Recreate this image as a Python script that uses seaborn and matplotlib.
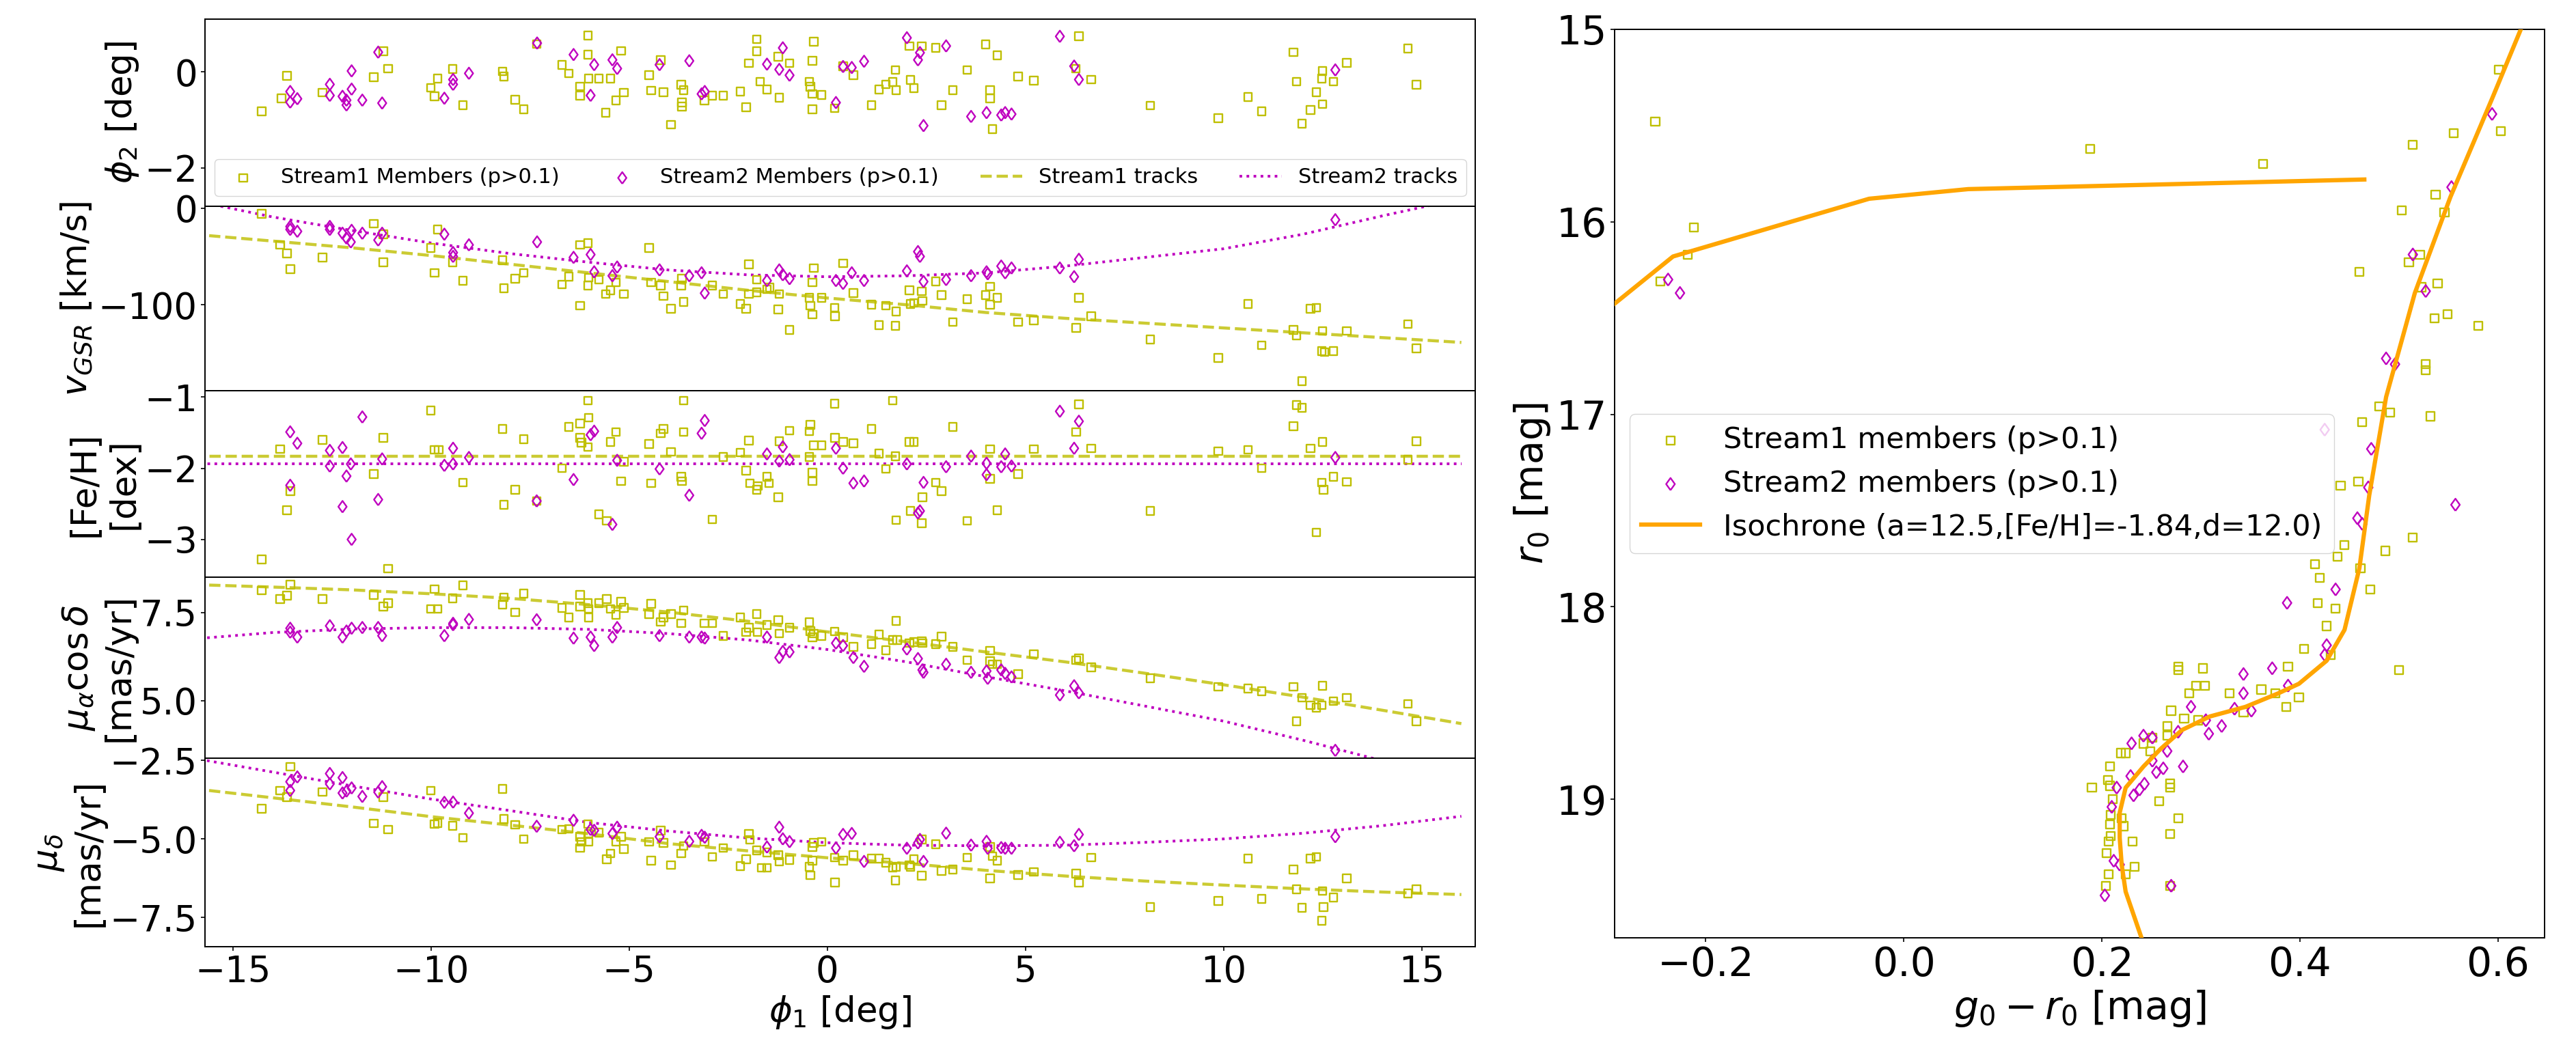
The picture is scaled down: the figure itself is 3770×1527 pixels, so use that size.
import numpy as np
import pandas as pd
import matplotlib
matplotlib.use("Agg")
import matplotlib.pyplot as plt
from matplotlib.ticker import FixedLocator
import seaborn as sns

# ---------------- data ----------------
# (phi1, value) pairs for each stream and panel
S1_PHI2 = [(-14.27,-0.82),(-13.63,-0.08),(-13.77,-0.55),(-12.73,-0.43),(-11.44,-0.11),(-11.08,0.07),(-11.2,0.43),
    (-10.0,-0.33),(-9.91,-0.51),(-9.83,-0.14),(-9.45,0.06),(-9.19,-0.69),(-8.19,0.01),(-8.16,-0.1),(-7.87,-0.58),
    (-7.66,-0.78),(-7.33,0.58),(-6.69,0.15),(-6.52,-0.03),(-6.23,-0.3),(-6.23,-0.49),(-6.04,0.76),(-6.04,0.36),
    (-6.02,-0.14),(-5.76,-0.14),(-5.59,-0.85),(-5.47,-0.14),(-5.33,-0.59),(-5.2,0.44),(-5.13,-0.43),(-4.49,-0.07),
    (-4.44,-0.39),(-4.2,0.25),(-4.13,-0.42),(-3.94,-1.1),(-3.68,-0.27),(-3.62,-0.38),(-3.67,-0.64),(-3.67,-0.72),
    (-3.1,-0.59),(-2.9,-0.49),(-2.62,-0.49),(-2.19,-0.41),(-2.05,-0.74),(-1.98,0.18),(-1.78,0.68),(-1.78,0.43),
    (-1.69,-0.2),(-1.52,-0.37),(-1.24,0.32),(-1.21,-0.54),(-0.95,0.18),(-0.45,-0.2),(-0.43,-0.31),(-0.37,-0.46),
    (-0.37,-0.78),(-0.37,0.23),(-0.34,0.63),(-0.14,-0.48),(0.19,-0.76),(0.4,0.12),(0.66,-0.07),(1.12,-0.69),
    (1.31,-0.37),(1.48,-0.26),(1.72,0.04),(1.65,-0.21),(1.74,-0.38),(2.08,0.54),(2.1,-0.17),(2.19,-0.34),(2.39,0.54),
    (2.74,0.5),(2.89,-0.69),(3.17,-0.38),(3.53,0.04),(4.0,0.57),(4.11,-0.38),(4.11,-0.55),(4.17,-1.19),(4.29,0.35),
    (4.82,-0.1),(5.21,-0.18),(6.27,0.07),(6.35,0.74),(6.66,-0.16),(8.15,-0.7),(9.87,-0.96),(10.62,-0.52),
    (10.96,-0.82),(11.76,0.41),(11.84,-0.2),(11.98,-1.08),(12.2,-0.79),(12.34,-0.42),(12.48,-0.14),(12.5,0.02),
    (12.5,-0.67),(12.77,-0.2),(13.11,0.19),(14.65,0.49),(14.87,-0.27)]
S2_PHI2 = [(-13.55,-0.41),(-13.55,-0.63),(-13.37,-0.56),(-12.55,-0.26),(-12.55,-0.49),(-12.23,-0.51),(-12.13,-0.59),
    (-12.13,-0.69),(-12.0,0.02),(-12.0,-0.36),(-11.73,-0.59),(-11.33,0.41),(-11.23,-0.65),(-9.66,-0.55),(-9.44,-0.16),
    (-9.44,-0.26),(-9.04,-0.03),(-7.32,0.6),(-6.4,0.36),(-5.97,-0.49),(-5.88,0.15),(-5.42,0.25),(-5.3,0.07),
    (-4.23,0.15),(-3.48,0.23),(-3.17,-0.46),(-3.09,-0.41),(-1.52,0.16),(-1.21,0.05),(-1.12,0.5),(-0.95,-0.07),
    (0.22,-0.64),(0.4,0.11),(0.62,0.09),(0.93,0.22),(2.01,0.71),(2.29,0.25),(2.34,0.4),(3.0,0.54),(2.43,-1.12),
    (3.63,-0.93),(4.02,-0.85),(4.39,-0.9),(4.49,-0.85),(4.65,-0.88),(5.87,0.74),(6.23,0.12),(6.35,-0.16),(12.82,0.04)]

S1_VGSR = [(-14.27,-6),(-13.8,-38),(-13.63,-47),(-13.55,-63),(-12.73,-51),(-11.44,-16),(-11.2,-27),(-11.2,-56),
    (-10.0,-41),(-9.91,-67),(-9.83,-22),(-9.45,-56),(-9.19,-75),(-8.19,-54),(-8.16,-83),(-7.87,-73),(-7.66,-67),
    (-6.69,-79),(-6.52,-71),(-6.23,-38),(-6.23,-101),(-6.04,-36),(-6.04,-80),(-6.02,-72),(-5.76,-74),(-5.59,-89),
    (-5.47,-85),(-5.33,-77),(-5.13,-89),(-4.49,-41),(-4.44,-77),(-4.2,-80),(-4.13,-91),(-3.94,-104),(-3.68,-80),
    (-3.62,-97),(-3.67,-73),(-2.9,-80),(-2.62,-89),(-2.19,-99),(-2.05,-104),(-1.98,-89),(-1.98,-58),(-1.78,-87),
    (-1.78,-74),(-1.52,-84),(-1.45,-82),(-1.21,-89),(-1.24,-105),(-0.95,-126),(-0.45,-93),(-0.43,-101),(-0.37,-77),
    (-0.37,-110),(-0.34,-62),(-0.14,-93),(0.19,-103),(0.2,-112),(0.4,-57),(0.66,-88),(1.12,-100),(1.31,-121),
    (1.48,-101),(1.72,-122),(1.74,-107),(2.08,-85),(2.1,-99),(2.39,-86),(2.4,-96),(2.19,-98),(2.74,-76),(2.89,-90),
    (3.17,-118),(3.53,-94),(4.0,-90),(4.11,-81),(4.11,-100),(4.29,-93),(4.82,-118),(5.21,-116),(6.28,-124),
    (6.35,-93),(6.66,-112),(8.15,-136),(9.87,-155),(10.62,-99),(10.96,-142),(11.76,-126),(11.84,-132),(11.98,-179),
    (12.2,-104),(12.34,-103),(12.48,-148),(12.5,-127),(12.55,-149),(12.77,-148),(13.11,-127),(14.65,-120),(14.87,-145)]
S2_VGSR = [(-13.55,-19),(-13.55,-22),(-13.37,-24),(-12.55,-19),(-12.55,-22),(-12.23,-26),(-12.13,-31),(-12.02,-35),
    (-12.0,-23),(-11.73,-26),(-11.33,-33),(-11.23,-26),(-9.66,-27),(-9.44,-46),(-9.44,-50),(-9.04,-38),(-7.32,-35),
    (-6.4,-51),(-5.97,-48),(-5.88,-66),(-5.42,-70),(-5.3,-61),(-4.23,-64),(-3.48,-70),(-3.17,-67),(-3.09,-88),
    (-1.52,-75),(-1.21,-64),(-1.12,-69),(-0.95,-73),(0.22,-75),(0.4,-78),(0.62,-67),(0.93,-75),(2.01,-65),
    (2.29,-45),(2.34,-50),(2.43,-76),(3.0,-74),(3.63,-70),(4.02,-66),(4.05,-68),(4.39,-60),(4.49,-67),(4.65,-62),
    (5.87,-62),(6.23,-71),(6.35,-53),(12.82,-12)]

S1_FEH = [(-14.27,-3.28),(-13.8,-1.73),(-13.63,-2.59),(-13.55,-2.32),(-12.73,-1.6),(-11.44,-2.08),(-11.2,-1.57),
    (-11.08,-3.41),(-10.0,-1.19),(-9.91,-1.74),(-9.8,-1.74),(-9.19,-2.2),(-8.19,-1.45),(-8.16,-2.51),(-7.87,-2.3),
    (-7.66,-1.59),(-7.33,-2.46),(-6.69,-2.0),(-6.52,-1.42),(-6.23,-1.37),(-6.23,-1.57),(-6.2,-1.64),(-6.04,-1.05),
    (-6.02,-1.29),(-6.04,-1.7),(-5.76,-2.65),(-5.56,-2.74),(-5.47,-1.63),(-5.33,-1.49),(-5.2,-2.18),(-5.13,-1.91),
    (-4.49,-1.66),(-4.44,-2.21),(-4.2,-1.51),(-4.13,-1.45),(-3.94,-1.77),(-3.68,-2.12),(-3.62,-1.49),(-3.62,-1.05),
    (-3.67,-2.18),(-2.9,-2.72),(-2.62,-1.84),(-2.19,-1.78),(-2.05,-2.03),(-1.98,-1.61),(-1.95,-2.21),(-1.78,-2.3),
    (-1.75,-2.25),(-1.52,-2.12),(-1.47,-2.21),(-1.24,-2.41),(-1.21,-1.62),(-0.95,-1.47),(-0.45,-1.48),(-0.43,-1.39),
    (-0.45,-1.84),(-0.37,-2.06),(-0.37,-2.18),(-0.34,-1.68),(-0.14,-1.68),(0.19,-1.09),(0.2,-1.57),(0.4,-1.63),
    (0.66,-1.65),(1.12,-1.45),(1.31,-1.79),(1.48,-2.01),(1.65,-1.05),(1.72,-1.83),(1.74,-2.73),(2.1,-2.6),
    (2.08,-1.63),(2.19,-1.63),(2.38,-2.77),(2.4,-2.41),(2.74,-2.2),(2.89,-2.32),(3.17,-1.42),(3.53,-2.74),
    (4.11,-1.73),(4.11,-2.15),(4.29,-2.59),(4.82,-2.08),(5.21,-1.73),(6.28,-1.49),(6.35,-1.1),(6.66,-1.72),
    (8.15,-2.6),(9.87,-1.76),(10.62,-1.74),(10.96,-2.0),(11.76,-1.41),(11.84,-1.11),(11.98,-1.15),(12.2,-1.72),
    (12.34,-2.9),(12.48,-2.2),(12.5,-1.63),(12.52,-2.3),(12.77,-2.12),(13.11,-2.19),(14.65,-1.88),(14.87,-1.62)]
S2_FEH = [(-13.55,-1.49),(-13.55,-2.24),(-13.37,-1.65),(-12.55,-1.75),(-12.55,-1.97),(-12.23,-1.71),(-12.23,-2.54),
    (-12.13,-2.11),(-12.02,-1.94),(-12.0,-3.0),(-11.73,-1.28),(-11.33,-2.44),(-11.23,-1.87),(-9.66,-1.96),
    (-9.44,-1.72),(-9.44,-1.94),(-9.04,-1.85),(-7.33,-2.46),(-6.4,-2.16),(-5.97,-1.53),(-5.88,-1.48),(-5.42,-2.79),
    (-5.3,-1.89),(-4.23,-2.01),(-3.48,-2.38),(-3.17,-1.51),(-3.09,-1.33),(-1.52,-1.8),(-1.21,-1.9),(-1.12,-1.7),
    (-0.95,-1.88),(0.22,-1.72),(0.4,-2.0),(0.66,-2.21),(0.93,-2.18),(2.01,-1.94),(2.29,-2.63),(2.34,-2.6),
    (2.43,-2.2),(3.0,-1.98),(3.63,-1.83),(4.02,-1.93),(4.02,-2.09),(4.39,-1.98),(4.49,-1.8),(4.65,-1.97),
    (5.87,-1.2),(6.23,-1.72),(6.35,-1.34),(12.82,-1.85)]

S1_PMRA = [(-14.27,8.12),(-13.8,7.88),(-13.63,7.98),(-13.55,8.29),(-12.73,7.88),(-11.44,8.0),(-11.2,7.67),
    (-11.08,7.76),(-10.0,7.6),(-9.91,8.16),(-9.83,7.6),(-9.45,7.9),(-9.19,8.27),(-8.19,7.72),(-8.16,7.93),
    (-7.87,7.5),(-7.66,8.04),(-6.69,7.63),(-6.52,7.36),(-6.23,8.0),(-6.23,7.67),(-6.04,7.77),(-6.02,7.6),
    (-6.02,7.36),(-5.76,7.76),(-5.56,7.88),(-5.47,7.6),(-5.33,7.43),(-5.2,7.8),(-5.13,7.63),(-4.49,7.46),
    (-4.44,7.74),(-4.2,7.23),(-4.13,7.36),(-3.94,7.45),(-3.68,7.19),(-3.62,7.56),(-3.1,7.19),(-2.9,7.19),
    (-2.62,6.84),(-2.19,7.36),(-2.05,6.94),(-1.98,7.07),(-1.78,7.46),(-1.76,6.94),(-1.52,7.15),(-1.24,7.29),
    (-1.21,6.9),(-0.95,7.07),(-0.45,7.22),(-0.43,6.97),(-0.37,6.8),(-0.34,6.9),(-0.14,6.84),(0.19,6.96),(0.4,6.8),
    (0.66,6.53),(1.12,6.6),(1.31,6.87),(1.48,6.43),(1.65,6.72),(1.74,7.26),(1.76,6.72),(2.08,6.63),(2.19,6.66),
    (2.38,6.69),(2.4,6.63),(2.74,6.6),(2.89,6.82),(3.17,6.53),(3.53,6.15),(4.11,6.42),(4.11,6.12),(4.17,6.03),
    (4.29,6.03),(4.82,5.75),(5.21,6.32),(6.28,6.15),(6.35,6.2),(6.66,5.94),(8.15,5.63),(9.87,5.39),(10.62,5.35),
    (10.96,5.27),(11.76,5.39),(11.84,4.42),(11.98,5.08),(12.2,4.87),(12.34,4.8),(12.48,4.87),(12.5,5.42),
    (12.77,4.99),(13.11,5.08),(14.65,4.91),(14.87,4.42)]
S2_PMRA = [(-13.55,7.05),(-13.55,6.94),(-13.37,6.8),(-12.55,7.12),(-12.23,6.8),(-12.13,6.97),(-12.0,7.05),
    (-11.73,7.07),(-11.33,7.07),(-11.23,6.84),(-9.66,6.84),(-9.44,7.19),(-9.44,7.15),(-9.04,7.3),(-7.33,7.29),
    (-6.4,6.77),(-5.97,6.8),(-5.88,6.56),(-5.42,6.8),(-5.3,7.07),(-4.23,6.84),(-3.48,6.8),(-3.17,6.8),(-3.09,6.77),
    (-1.52,6.8),(-1.21,6.22),(-1.12,6.39),(-0.95,6.38),(0.22,6.63),(0.4,6.56),(0.66,6.22),(0.93,5.97),(2.01,6.46),
    (2.29,6.19),(2.43,5.8),(2.4,5.87),(3.0,6.03),(3.63,5.8),(4.02,5.84),(4.05,5.63),(4.39,5.87),(4.49,5.77),
    (4.65,5.67),(5.87,5.16),(6.23,5.42),(6.35,5.22),(12.82,3.59)]

S1_PMDEC = [(-14.27,-4.04),(-13.8,-3.46),(-13.63,-3.67),(-13.55,-2.7),(-12.73,-3.51),(-11.44,-4.51),(-11.2,-3.67),
    (-11.08,-4.7),(-10.0,-3.46),(-9.91,-4.53),(-9.83,-4.49),(-9.45,-4.58),(-9.19,-4.96),(-8.19,-3.41),(-8.16,-4.37),
    (-7.87,-4.55),(-7.66,-5.01),(-6.69,-4.7),(-6.52,-4.68),(-6.23,-4.93),(-6.23,-5.29),(-6.2,-5.09),(-6.04,-4.53),
    (-6.02,-5.09),(-6.02,-4.83),(-5.76,-4.8),(-5.56,-5.65),(-5.47,-5.46),(-5.33,-5.09),(-5.2,-4.93),(-5.13,-5.32),
    (-4.49,-5.09),(-4.44,-5.69),(-4.2,-4.73),(-4.13,-5.13),(-3.94,-5.83),(-3.68,-5.46),(-3.62,-5.22),(-3.1,-5.09),
    (-2.9,-5.57),(-2.62,-5.29),(-2.19,-5.86),(-2.05,-5.65),(-1.98,-4.83),(-1.95,-5.03),(-1.78,-5.36),(-1.66,-5.92),
    (-1.52,-5.92),(-1.52,-5.43),(-1.24,-5.52),(-1.21,-5.72),(-0.95,-5.67),(-0.45,-5.88),(-0.43,-6.16),(-0.37,-5.26),
    (-0.37,-5.69),(-0.34,-5.13),(-0.14,-5.09),(0.19,-5.59),(0.2,-6.38),(0.4,-5.69),(0.66,-5.52),(1.12,-5.62),
    (1.31,-5.62),(1.48,-5.75),(1.65,-5.92),(1.72,-6.32),(1.74,-5.88),(2.08,-5.83),(2.1,-5.88),(2.19,-5.65),
    (2.39,-5.02),(2.38,-6.17),(2.74,-5.17),(2.89,-6.02),(3.17,-5.98),(3.53,-5.59),(4.11,-5.26),(4.11,-6.25),
    (4.17,-5.55),(4.29,-5.69),(4.82,-6.15),(5.21,-6.05),(6.28,-6.11),(6.35,-6.4),(6.66,-5.59),(8.15,-7.17),
    (9.87,-6.98),(10.62,-5.62),(10.96,-6.91),(11.76,-5.98),(11.84,-6.6),(11.98,-7.19),(12.2,-5.62),(12.34,-5.57),
    (12.48,-7.61),(12.5,-6.66),(12.52,-7.17),(12.77,-6.87),(13.11,-6.25),(14.65,-6.73),(14.87,-6.6)]
S2_PMDEC = [(-13.55,-3.18),(-13.55,-3.46),(-13.37,-3.03),(-12.55,-2.92),(-12.55,-3.25),(-12.23,-3.05),
    (-12.23,-3.54),(-12.13,-3.48),(-12.0,-3.38),(-11.73,-3.65),(-11.33,-3.51),(-11.23,-3.34),(-9.66,-3.84),
    (-9.44,-3.83),(-9.04,-4.18),(-7.33,-4.6),(-6.4,-4.41),(-5.97,-4.7),(-5.88,-4.73),(-5.42,-4.83),(-5.3,-4.63),
    (-4.23,-4.93),(-3.48,-5.08),(-3.17,-4.89),(-3.09,-4.95),(-1.52,-5.26),(-1.21,-4.63),(-1.12,-5.0),(-0.95,-5.09),
    (0.22,-5.29),(0.4,-4.86),(0.62,-4.83),(0.93,-5.72),(2.01,-5.3),(2.29,-5.13),(2.34,-5.02),(2.43,-5.72),
    (3.0,-4.82),(3.63,-5.2),(4.02,-5.08),(4.05,-5.3),(4.39,-5.28),(4.49,-5.3),(4.65,-5.3),(5.87,-5.11),
    (6.23,-5.22),(6.35,-4.86),(12.82,-4.93)]

# stream tracks, read at these phi1 positions
TRACK_PHI1 = [-16, -14, -12, -10, -8, -6, -4, -2, 0, 2, 4, 6, 8, 10, 12, 14, 16]
S1_TRACK_VGSR = [-27, -34, -41, -49, -58, -67, -76, -85, -93, -100, -108, -114, -119, -124, -129, -134, -139]
S2_TRACK_VGSR = [8, -9, -23, -36, -47, -56, -64, -69, -71, -70, -67, -60, -51, -42, -27, -8, 10]
S1_TRACK_FEH = [-1.83, -1.83, -1.83, -1.83, -1.83, -1.83, -1.83, -1.83, -1.83, -1.83, -1.83, -1.83, -1.83, -1.83, -1.83, -1.83, -1.83]
S2_TRACK_FEH = [-1.94, -1.94, -1.94, -1.94, -1.94, -1.94, -1.94, -1.94, -1.94, -1.94, -1.94, -1.94, -1.94, -1.94, -1.94, -1.94, -1.94]
S1_TRACK_PMRA = [8.29, 8.22, 8.14, 8.03, 7.9, 7.72, 7.51, 7.25, 6.95, 6.67, 6.38, 6.1, 5.78, 5.45, 5.1, 4.73, 4.35]
S2_TRACK_PMRA = [6.75, 6.93, 7.03, 7.07, 7.07, 7.02, 6.9, 6.72, 6.45, 6.1, 5.68, 5.28, 4.85, 4.42, 3.88, 3.3, 2.7]
S1_TRACK_PMDEC = [-3.4, -3.69, -3.98, -4.29, -4.56, -4.84, -5.15, -5.38, -5.6, -5.78, -6.0, -6.18, -6.34, -6.47, -6.59, -6.69, -6.77]
S2_TRACK_PMDEC = [-2.43, -2.87, -3.31, -3.73, -4.1, -4.48, -4.75, -4.97, -5.12, -5.2, -5.22, -5.2, -5.11, -5.0, -4.82, -4.58, -4.28]

# CMD: (g0 - r0, r0)
S1_CMD = [(-0.251,15.48),(-0.246,16.31),(-0.218,16.17),(-0.212,16.03),(0.188,15.62),(0.363,15.70),(0.46,16.26),
    (0.503,15.94),(0.514,15.6),(0.521,16.17),(0.51,16.21),(0.523,16.34),(0.537,15.86),(0.546,15.95),(0.555,15.54),
    (0.539,16.32),(0.536,16.5),(0.549,16.48),(0.58,16.54),(0.601,15.21),(0.603,15.53),(0.527,16.74),(0.527,16.77),
    (0.48,16.96),(0.491,16.99),(0.532,17.01),(0.463,17.04),(0.459,17.35),(0.441,17.37),(0.445,17.68),(0.438,17.74),
    (0.514,17.64),(0.486,17.71),(0.461,17.8),(0.415,17.78),(0.42,17.85),(0.471,17.91),(0.418,17.98),(0.436,18.01),
    (0.427,18.1),(0.404,18.22),(0.431,18.25),(0.5,18.33),(0.388,18.31),(0.277,18.31),(0.277,18.33),(0.302,18.32),
    (0.361,18.43),(0.375,18.45),(0.329,18.45),(0.295,18.41),(0.304,18.41),(0.288,18.45),(0.399,18.47),(0.386,18.52),
    (0.27,18.54),(0.283,18.58),(0.297,18.59),(0.343,18.55),(0.266,18.62),(0.249,18.75),(0.251,18.68),(0.266,18.67),
    (0.242,18.71),(0.224,18.76),(0.219,18.76),(0.208,18.83),(0.206,18.9),(0.208,18.93),(0.19,18.94),(0.269,18.92),
    (0.269,18.94),(0.258,19.01),(0.211,19.0),(0.277,19.1),(0.209,19.08),(0.22,19.1),(0.222,19.14),(0.208,19.13),
    (0.269,19.18),(0.209,19.19),(0.207,19.22),(0.231,19.22),(0.205,19.28),(0.233,19.35),(0.224,19.39),(0.207,19.39),
    (0.204,19.45),(0.269,19.45)]
S2_CMD = [(-0.238,16.3),(-0.226,16.37),(0.594,15.44),(0.553,15.82),(0.514,16.17),(0.527,16.36),(0.487,16.71),
    (0.496,16.74),(0.472,17.18),(0.425,17.08),(0.469,17.38),(0.458,17.54),(0.463,17.57),(0.557,17.47),(0.436,17.91),
    (0.387,17.98),(0.427,18.2),(0.425,18.25),(0.372,18.32),(0.343,18.35),(0.388,18.41),(0.343,18.45),(0.334,18.53),
    (0.351,18.54),(0.29,18.52),(0.305,18.59),(0.321,18.62),(0.308,18.66),(0.277,18.65),(0.266,18.75),(0.23,18.71),
    (0.242,18.67),(0.251,18.68),(0.282,18.83),(0.262,18.84),(0.255,18.86),(0.251,18.8),(0.229,18.88),(0.243,18.92),
    (0.238,18.95),(0.215,18.94),(0.232,18.98),(0.21,19.04),(0.212,19.32),(0.218,19.34),(0.27,19.45),(0.203,19.5)]

# isochrone: main sequence -> red giant branch, and horizontal branch
ISO_RGB_COLOR = [0.240, 0.224, 0.220, 0.218, 0.218, 0.224, 0.242, 0.259, 0.281, 0.309, 0.345, 0.378, 0.399,
                 0.427, 0.445, 0.460, 0.470, 0.487, 0.516, 0.552, 0.594, 0.623, 0.630]
ISO_RGB_MAG = [19.72, 19.48, 19.34, 19.20, 19.07, 18.94, 18.83, 18.74, 18.64, 18.57, 18.52, 18.45, 18.40,
               18.28, 18.12, 17.80, 17.42, 16.91, 16.37, 15.87, 15.36, 15.00, 14.90]
ISO_HB_COLOR = [-0.310, -0.233, -0.035, 0.065, 0.465]
ISO_HB_MAG = [16.50, 16.18, 15.88, 15.83, 15.78]

# ---------------- figure ----------------
plt.rcParams['font.family'] = ['DejaVu Sans']
plt.rcParams['mathtext.fontset'] = 'dejavusans'
plt.rcParams['axes.linewidth'] = 1.4
plt.rcParams['xtick.major.width'] = 1.2
plt.rcParams['ytick.major.width'] = 1.2
plt.rcParams['xtick.major.size'] = 4.5
plt.rcParams['ytick.major.size'] = 4.5

W, H = 3770, 1527
fig = plt.figure(figsize=(W / 100, H / 100), dpi=100)


def rect(x0, y0, x1, y1):
    return [x0 / W, 1 - y1 / H, (x1 - x0) / W, (y1 - y0) / H]


C1, C2 = 'y', 'm'
# open diamond a bit wider than matplotlib's thin diamond
DIAMOND = [(0, -1), (0.72, 0), (0, 1), (-0.72, 0), (0, -1)]
SQ_S, DI_S = 70, 150
TICK_L, LABEL_L = 38, 37

edges = [28, 302, 572, 845, 1110, 1386]
panels = [
    (S1_PHI2, S2_PHI2, None, None, (-2.8, 1.1), [-2, 0], r'$\phi_2$ [deg]'),
    (S1_VGSR, S2_VGSR, S1_TRACK_VGSR, S2_TRACK_VGSR, (-189, 2), [-100, 0], r'$v_{GSR}$ [km/s]'),
    (S1_FEH, S2_FEH, S1_TRACK_FEH, S2_TRACK_FEH, (-3.53, -0.91), [-3, -2, -1], '[Fe/H]\n[dex]'),
    (S1_PMRA, S2_PMRA, S1_TRACK_PMRA, S2_TRACK_PMRA, (3.37, 8.5), [5.0, 7.5],
     r'$\mu_{\alpha}\cos\delta$' + '\n[mas/yr]'),
    (S1_PMDEC, S2_PMDEC, S1_TRACK_PMDEC, S2_TRACK_PMDEC, (-8.43, -2.43), [-7.5, -5.0, -2.5],
     r'$\mu_{\delta}$' + '\n[mas/yr]'),
]

axes = []
for i, (s1, s2, t1, t2, ylim, yt, ylab) in enumerate(panels):
    ax = fig.add_axes(rect(300, edges[i], 2159, edges[i + 1]), sharex=axes[0] if axes else None)
    axes.append(ax)
    d1 = pd.DataFrame(s1, columns=['phi1', 'val'])
    d2 = pd.DataFrame(s2, columns=['phi1', 'val'])
    sns.scatterplot(data=d1, x='phi1', y='val', marker='s', s=SQ_S, color=C1, facecolor='none',
                    edgecolor=C1, linewidth=1.7, label='Stream1 Members (p>0.1)', ax=ax, zorder=3)
    sns.scatterplot(data=d2, x='phi1', y='val', marker=DIAMOND, s=DI_S, color=C2, facecolor='none',
                    edgecolor=C2, linewidth=1.7, label='Stream2 Members (p>0.1)', ax=ax, zorder=3)
    if t1 is not None:
        sns.lineplot(x=TRACK_PHI1, y=t1, color=C1, linestyle='--', linewidth=3.2, alpha=0.8,
                     label='Stream1 tracks', ax=ax, zorder=2)
        sns.lineplot(x=TRACK_PHI1, y=t2, color=C2, linestyle=':', linewidth=2.8,
                     label='Stream2 tracks', ax=ax, zorder=2)
    if ax.get_legend() is not None:
        ax.get_legend().remove()
    ax.set_ylim(*ylim)
    ax.yaxis.set_major_locator(FixedLocator(yt))
    ax.set_ylabel(ylab, fontsize=LABEL_L)
    ax.set_xlabel('')
    ax.tick_params(axis='both', labelsize=TICK_L)
    if i < len(panels) - 1:
        ax.tick_params(axis='x', bottom=False, labelbottom=False)

axes[0].set_xlim(-15.7, 16.35)
axes[-1].xaxis.set_major_locator(FixedLocator([-15, -10, -5, 0, 5, 10, 15]))
axes[-1].set_xlabel(r'$\phi_1$ [deg]', fontsize=LABEL_L)

h0, l0 = axes[0].get_legend_handles_labels()
h1, l1 = axes[1].get_legend_handles_labels()
handles = h0[:2] + h1[2:4]
labels = l0[:2] + l1[2:4]
axes[0].legend(handles, labels, loc='lower center', ncol=4, fontsize=22)

# ---------------- CMD panel ----------------
axc = fig.add_axes(rect(2363, 43, 3724, 1373))
c1 = pd.DataFrame(S1_CMD, columns=['gr', 'r'])
c2 = pd.DataFrame(S2_CMD, columns=['gr', 'r'])
sns.scatterplot(data=c1, x='gr', y='r', marker='s', s=78, color=C1, facecolor='none', edgecolor=C1,
                linewidth=1.7, label='Stream1 members (p>0.1)', ax=axc, zorder=2)
sns.scatterplot(data=c2, x='gr', y='r', marker=DIAMOND, s=165, color=C2, facecolor='none', edgecolor=C2,
                linewidth=1.7, label='Stream2 members (p>0.1)', ax=axc, zorder=2)
sns.lineplot(x=ISO_RGB_COLOR, y=ISO_RGB_MAG, sort=False, estimator=None, color='orange', linewidth=4.5,
             label='Isochrone (a=12.5,[Fe/H]=-1.84,d=12.0)', ax=axc, zorder=3)
sns.lineplot(x=ISO_HB_COLOR, y=ISO_HB_MAG, sort=False, estimator=None, color='orange', linewidth=4.5,
             ax=axc, zorder=3)
if axc.get_legend() is not None:
    axc.get_legend().remove()
axc.set_xlim(-0.292, 0.647)
axc.set_ylim(19.72, 15.0)
axc.xaxis.set_major_locator(FixedLocator([-0.2, 0.0, 0.2, 0.4, 0.6]))
axc.yaxis.set_major_locator(FixedLocator([15, 16, 17, 18, 19]))
axc.tick_params(axis='both', labelsize=42)
axc.set_xlabel(r'$g_0-r_0$ [mag]', fontsize=41)
axc.set_ylabel(r'$r_0$ [mag]', fontsize=41)
hc, lc = axc.get_legend_handles_labels()
axc.legend(hc[:3], lc[:3], loc='center left', fontsize=31)

fig.savefig('out.png', dpi=100)
